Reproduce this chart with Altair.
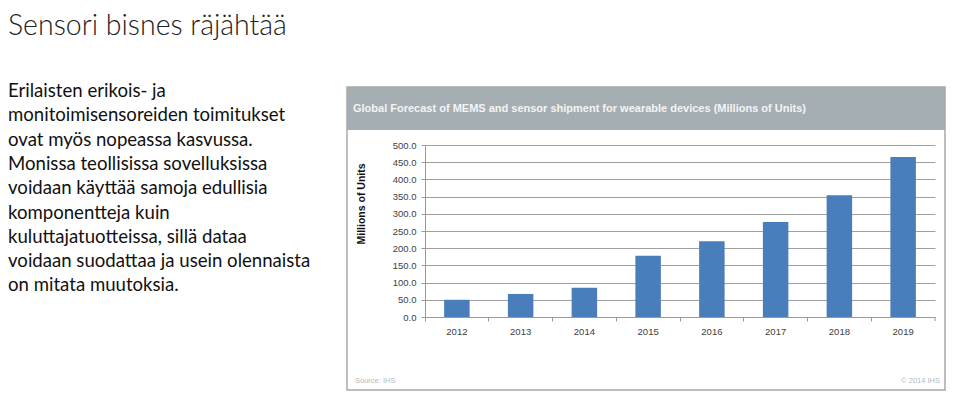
import altair as alt
import pandas as pd

# ---- data ----
years = ["2012", "2013", "2014", "2015", "2016", "2017", "2018", "2019"]
shipments = [50, 67, 85, 178, 220, 276, 354, 465]
y_ticks = [0, 50, 100, 150, 200, 250, 300, 350, 400, 450, 500]

slide_title = "Sensori bisnes räjähtää"
body_lines = [
    "Erilaisten erikois- ja",
    "monitoimisensoreiden toimitukset",
    "ovat myös nopeassa kasvussa.",
    "Monissa teollisissa sovelluksissa",
    "voidaan käyttää samoja edullisia",
    "komponentteja kuin",
    "kuluttajatuotteissa, sillä dataa",
    "voidaan suodattaa ja usein olennaista",
    "on mitata muutoksia.",
]
chart_title = "Global Forecast of MEMS and sensor shipment for wearable devices (Millions of Units)"
y_title = "Millions of Units"
source_left = "Source: IHS"
source_right = "© 2014 IHS"

W, H = 510, 172
SANS = "Liberation Sans, Arial, sans-serif"

df = pd.DataFrame({"year": years, "value": shipments})
one = pd.DataFrame({"k": [0]})

bars = alt.Chart(df).mark_bar(color="#4a7dbb", width=alt.RelativeBandSize(0.4)).encode(
    x=alt.X(
        "year:N", sort=years,
        scale=alt.Scale(paddingInner=0, paddingOuter=0),
        axis=alt.Axis(
            title=None, bandPosition=0, labelAngle=0,
            labelFont=SANS, labelFontSize=9.5, labelColor="#404040",
            tickColor="#999999", domainColor="#999999", tickSize=4, labelPadding=5, grid=False,
        ),
    ),
    y=alt.Y(
        "value:Q",
        scale=alt.Scale(domain=[0, 500], nice=False),
        axis=alt.Axis(
            title=None, values=y_ticks, format=".1f", grid=True, gridColor="#a0a0a0",
            gridOpacity=1, tickColor="#999999", domainColor="#999999", tickSize=4,
            labelPadding=5, labelFont=SANS, labelFontSize=9.5, labelColor="#404040",
        ),
    ),
)

end_tick = alt.Chart(one).mark_rule(color="#999999").encode(
    x=alt.value(W), y=alt.value(H), y2=alt.value(H + 4)
)

box = alt.Chart(one).mark_rect(fillOpacity=0, stroke="#a8a8a8", strokeWidth=1.5).encode(
    x=alt.value(-78), x2=alt.value(520), y=alt.value(-58), y2=alt.value(245)
)
header = alt.Chart(one).mark_rect(color="#a5aeb3").encode(
    x=alt.value(-78), x2=alt.value(520), y=alt.value(-58), y2=alt.value(-15)
)
header_text = alt.Chart(one).mark_text(
    text=chart_title, align="left", baseline="middle", font=SANS,
    fontSize=11, fontWeight="bold", color="#f4f4f4",
).encode(x=alt.value(-72), y=alt.value(-36))

ytitle = alt.Chart(one).mark_text(
    text=y_title, angle=270, align="center", baseline="middle",
    font=SANS, fontSize=10.5, fontWeight="bold", color="#111111",
).encode(x=alt.value(-63), y=alt.value(59))

src_l = alt.Chart(one).mark_text(
    text=source_left, align="left", baseline="middle",
    font=SANS, fontSize=7.5, color="#b8b8b8",
).encode(x=alt.value(-70), y=alt.value(236))
src_r = alt.Chart(one).mark_text(
    text=source_right, align="right", baseline="middle",
    font=SANS, fontSize=7.5, color="#b8b8b8",
).encode(x=alt.value(515), y=alt.value(236))

title_txt = alt.Chart(one).mark_text(
    text=slide_title, align="left", baseline="top",
    font="Lato", fontSize=28.5, fontWeight=300, color="#222222",
).encode(x=alt.value(-417), y=alt.value(-133))

body_txt = alt.Chart(one).mark_text(
    text=body_lines, align="left", baseline="alphabetic", lineHeight=24.3,
    font="Lato", fontSize=18.6, color="#111111",
).encode(x=alt.value(-417), y=alt.value(-48))

chart = alt.layer(
    header, box, header_text, ytitle, src_l, src_r, title_txt, body_txt, bars, end_tick
).properties(
    width=W, height=H,
    autosize=alt.AutoSizeParams(type="none"),
    padding={"left": 417, "top": 137, "right": 15, "bottom": 74},
).configure_view(strokeWidth=0)

chart.save("out.html", embed_options={"renderer": "svg", "actions": False})
